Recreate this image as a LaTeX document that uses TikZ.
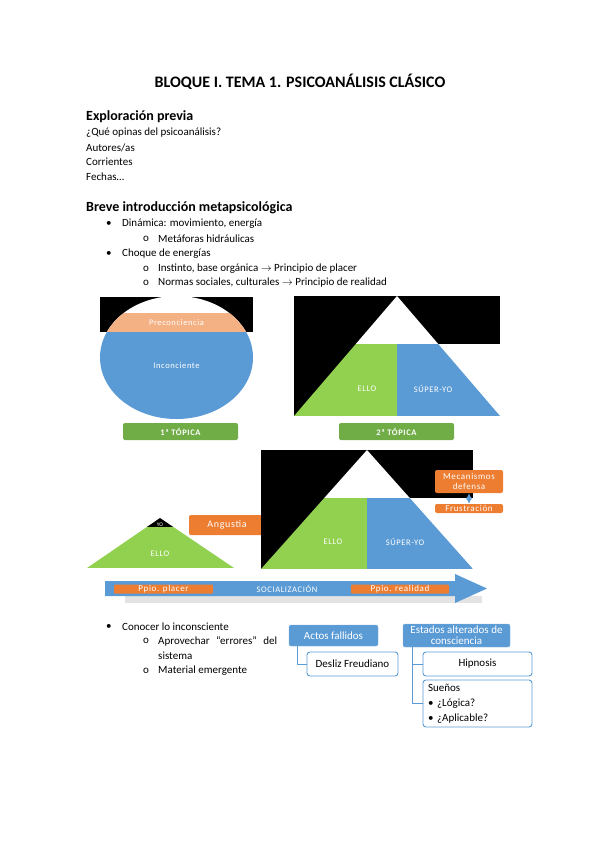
\documentclass[tikz,border=0pt]{standalone}
\usepackage{fontspec}
\setmainfont{Carlito}
\definecolor{azul}{HTML}{5B9BD5}
\definecolor{verde}{HTML}{92D050}
\definecolor{verdeosc}{HTML}{70AD47}
\definecolor{naranja}{HTML}{ED7D31}
\definecolor{salmon}{HTML}{F4B183}
\definecolor{gris}{HTML}{E3E3E3}
\newcommand{\espaciado}{\addfontfeature{LetterSpace=7}}
\begin{document}
\begin{tikzpicture}[x=1pt,y=-1pt,line join=round,line cap=round,>=stealth,
		font=\fontsize{11}{13}\selectfont,
		txt/.style={anchor=west,inner sep=0pt},
		lbl/.style={text=white,inner sep=0pt,font=\fontsize{8.5}{10}\selectfont\espaciado},
		topica/.style={fill=verdeosc,text=white,rounded corners=2pt,inner sep=0pt,font=\bfseries\fontsize{8.5}{10}\selectfont\espaciado},
		etiqueta/.style={fill=naranja,text=white,rounded corners=2pt,inner sep=0pt,align=center,font=\fontsize{9}{10}\selectfont\espaciado},
		cabecera/.style={fill=azul,draw=azul!80!white,text=white,rounded corners=2pt,inner sep=0pt,align=center,font=\fontsize{11}{11}\selectfont},
		hoja/.style={fill=white,draw=azul,line width=0.9pt,rounded corners=3pt,inner sep=0pt,font=\fontsize{11}{13}\selectfont},
		conector/.style={draw=azul,line width=1pt}]
	\useasboundingbox (0,0) rectangle (599,848);
	% texto
	\node[font=\bfseries\fontsize{16}{19}\selectfont] (titulo) at (300,82) {BLOQUE I. TEMA 1. PSICOANÁLISIS CLÁSICO};
	\node[txt,font=\bfseries\fontsize{14}{16}\selectfont] (explo) at (86,117) {Exploración previa};
	\node[txt] (preg) at (86,133) {¿Qué opinas del psicoanálisis?};
	\node[txt] (autores) at (86,148) {Autores/as};
	\node[txt] (corr) at (86,162) {Corrientes};
	\node[txt] (fechas) at (86,177) {Fechas…};
	\node[txt,font=\bfseries\fontsize{14}{16}\selectfont] (breve) at (86,208) {Breve introducción metapsicológica};
	\foreach \y in {224,254,627}{
		\node[txt] (b\y) at (106,\y) {•};	}
	\foreach \y in {239,269,283,641,671}{
		\node[txt] (o\y) at (143,\y) {o};	}
	\node[txt] (dina) at (122,224) {Dinámica: movimiento, energía};
	\node[txt] (meta) at (158,239) {Metáforas hidráulicas};
	\node[txt] (choque) at (122,254) {Choque de energías};
	\node[txt] (inst) at (158,269) {Instinto, base orgánica $\rightarrow$ Principio de placer};
	\node[txt] (normas) at (158,283) {Normas sociales, culturales $\rightarrow$ Principio de realidad};
	\node[txt] (conocer) at (122,627) {Conocer lo inconsciente};
	\node[txt] (aprov) at (158,641) {\makebox[119pt][s]{Aprovechar “errores” del}};
	\node[txt] (sistema) at (158,656) {sistema};
	\node[txt] (material) at (158,671) {Material emergente};
	% 1a topica
	\fill (100,297) rectangle (253,332);
	\fill[white] (176.5,357.5) ellipse [x radius=76.5pt,y radius=61.5pt];
	\begin{scope}
		\clip (176.5,357.5) ellipse [x radius=76.5pt,y radius=61.5pt];
		\fill[salmon] (99,313) rectangle (254,332);
		\fill[azul] (99,332) rectangle (254,420);
	\end{scope}
	\node[lbl] (precon) at (176.5,322.5) {Preconciencia};
	\node[lbl] (incon) at (176.5,366) {Inconciente};
	\node[topica,minimum width=115,minimum height=17] (top1) at (180.5,431.5) {1ª TÓPICA};
	% 2a topica
	\fill (294,296) rectangle (500,344);
	\fill (294,296) rectangle (397,416);
	\begin{scope}
		\clip (397,296) -- (294,416) -- (500,416) -- cycle;
		\fill[white] (294,296) rectangle (500,344);
		\fill[verde] (294,344) rectangle (397,416);
		\fill[azul] (397,344) rectangle (500,416);
	\end{scope}
	\node[lbl] (ello2) at (367,389) {ELLO};
	\node[lbl] (super2) at (433,389) {SÚPER-YO};
	\node[topica,minimum width=115,minimum height=17] (top2) at (396.5,431.5) {2ª TÓPICA};
	% socializacion
	\begin{scope}
		\clip (160,518) -- (87,568) -- (234,568) -- cycle;
		\fill (87,518) rectangle (234,527);
		\fill[verde] (87,527) rectangle (234,568);
	\end{scope}
	\node[lbl,font=\fontsize{5.5}{6}\selectfont] (yo) at (160,524.5) {YO};
	\node[lbl] (ello3) at (160,554) {ELLO};
	\node[etiqueta,minimum width=76,minimum height=20,font=\fontsize{10}{11}\selectfont\espaciado] (angustia) at (227,525) {Angustia};
	\fill (261,450) rectangle (473,498);
	\fill (261,450) rectangle (367,569);
	\begin{scope}
		\clip (367,450) -- (261,569) -- (473,569) -- cycle;
		\fill[white] (261,450) rectangle (473,498);
		\fill[verde] (261,498) rectangle (367,569);
		\fill[azul] (367,498) rectangle (473,569);
	\end{scope}
	\node[lbl] (ello4) at (333,542) {ELLO};
	\node[lbl] (super4) at (405,542) {SÚPER-YO};
	\node[etiqueta,minimum width=68,minimum height=23] (meca) at (469,481.5) {Mecanismos\\defensa};
	\node[etiqueta,minimum width=68,minimum height=9] (frus) at (469,508.5) {Frustración};
	\draw[<->,azul,line width=1.5pt,shorten <=0.5pt,shorten >=0.5pt] (meca) -- (frus);
	\fill[gris] (125,596) rectangle (482,603);
	\fill[azul] (105,581) -- (455,581) -- (455,574) -- (487,588.5) -- (455,603) -- (455,596) -- (105,596) -- cycle;
	\node[etiqueta,rounded corners=1pt,minimum width=99,minimum height=9] (placer) at (163.5,589) {Ppio. placer};
	\node[lbl,font=\fontsize{8.5}{9}\selectfont\espaciado] (social) at (287,589) {SOCIALIZACIÓN};
	\node[etiqueta,rounded corners=1pt,minimum width=98,minimum height=9] (realidad) at (400,589) {Ppio. realidad};
	% inconsciente
	\node[cabecera,minimum width=89,minimum height=21] (actos) at (333.5,635.5) {Actos fallidos};
	\node[hoja,minimum width=91,minimum height=24] (desliz) at (352.5,664) {Desliz Freudiano};
	\node[cabecera,minimum width=107,minimum height=23] (estados) at (456.5,635.5) {Estados alterados de\\consciencia};
	\node[hoja,minimum width=109,minimum height=24] (hipnosis) at (477.5,664) {Hipnosis};
	\node[hoja,minimum width=109,minimum height=47,align=left,text width=99pt,font=\fontsize{11}{15}\selectfont] (suenos) at (477.5,703.5) {Sueños\\• ¿Lógica?\\• ¿Aplicable?};
	\draw[conector] ([xshift=9pt]actos.south west) |- (desliz.west);
	\draw[conector] ([xshift=10pt]estados.south west) |- (hipnosis.west);
	\draw[conector] ([xshift=10pt]estados.south west) |- (suenos.west);
\end{tikzpicture}
\end{document}
